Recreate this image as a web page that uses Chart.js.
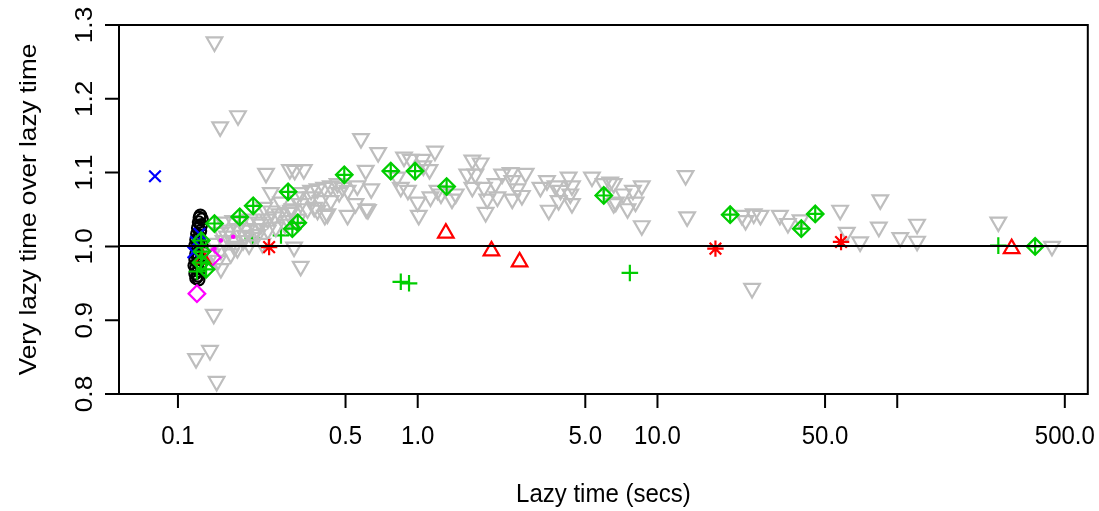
<!DOCTYPE html>
<html>
<head>
<meta charset="utf-8">
<script src="https://cdn.jsdelivr.net/npm/chart.js@4.4.1/dist/chart.umd.min.js"></script>
<style>
html,body{margin:0;padding:0;background:#fff;}
#wrap{width:1099px;height:511px;position:relative;}
</style>
</head>
<body>
<div id="wrap"><canvas id="c"></canvas></div>
<script>
// ---------------- data ----------------
const xTickValues = [0.1, 0.5, 1, 5, 10, 50, 100, 500];
const xTickLabels = ["0.1", "0.5", "1.0", "5.0", "10.0", "50.0", "", "500.0"];
const yTickValues = [0.8, 0.9, 1.0, 1.1, 1.2, 1.3];
const yTickLabels = ["0.8", "0.9", "1.0", "1.1", "1.2", "1.3"];
const xTitle = "Lazy time (secs)";
const yTitle = "Very lazy time over lazy time";
const refLineY = 1.0;

const grayX = [0.142,0.150,0.178,0.141,0.136,0.119,0.145,
  0.233,0.293,0.307,0.335,0.244,0.269,0.229,0.310,0.300,
  0.155,0.170,0.183,0.200,0.217,0.237,0.252,
  0.151,0.163,0.177,0.194,0.213,0.237,0.256,
  0.155,0.170,0.187,0.225,0.151,0.166,0.147,0.151,0.177,0.142,0.139,0.288,
  0.325,0.359,0.382,0.407,0.434,0.463,0.359,0.394,0.434,0.325,0.347,0.382,0.420,0.296,0.288,0.316,0.486,0.470,0.305,0.325,
  0.580,0.684,0.607,0.877,0.935,1.046,1.180,1.056,1.120,0.820,0.850,0.910,1.000,1.010,1.210,1.130,1.250,
  0.510,0.560,0.640,0.550,0.610,0.510,0.620,0.410,0.370,
  1.69,1.83,1.61,1.74,1.69,1.89,1.44,1.39,1.95,2.15,1.92,2.25,2.44,2.82,2.11,2.48,2.60,2.48,2.72,
  3.25,3.46,3.52,3.76,3.94,4.26,4.40,4.33,3.87,4.40,5.33,5.96,6.57,6.57,6.35,
  7.2,7.9,8.6,6.7,7.5,8.1,8.6,13.1,13.3,22.5,23.3,25.2,26.9,32.4,35.0,
  57.8,61.6,70.0,85.0,83.8,103,121,121,264,442,24.8,39.5,
  0.160,0.190,0.205,0.222,0.245,0.265,0.280,0.172,0.198,0.215];
const grayY = [1.277,1.162,1.177,0.908,0.859,0.848,0.817,
  1.099,1.104,1.103,1.104,1.073,1.060,1.053,1.067,1.051,
  1.033,1.035,1.033,1.037,1.033,1.037,1.040,
  1.019,1.022,1.024,1.022,1.024,1.022,1.026,
  1.008,1.006,1.008,1.004,0.995,0.990,0.981,0.970,0.997,1.004,0.990,1.046,
  1.073,1.076,1.078,1.080,1.082,1.085,1.067,1.062,1.062,1.058,1.051,1.049,1.044,1.049,1.035,1.037,1.080,1.073,0.999,0.973,
  1.146,1.127,1.103,1.121,1.118,1.118,1.129,1.109,1.104,1.094,1.080,1.076,1.060,1.042,1.076,1.067,1.071,
  1.076,1.082,1.078,1.058,1.051,1.042,1.050,1.042,1.053,
  1.117,1.113,1.098,1.098,1.080,1.080,1.071,1.064,1.064,1.067,1.046,1.098,1.100,1.099,1.085,1.089,1.078,1.064,1.069,
  1.080,1.089,1.049,1.082,1.076,1.094,1.082,1.071,1.062,1.058,1.094,1.085,1.085,1.058,1.087,
  1.071,1.076,1.082,1.060,1.051,1.060,1.028,1.096,1.040,1.042,1.035,1.044,1.042,1.042,1.031,
  1.049,1.019,1.006,1.063,1.026,1.012,1.030,1.007,1.033,1.000,0.943,1.036,
  1.014,1.015,1.012,1.030,1.048,1.044,1.030,1.000,1.002,1.016];

const blackX = [0.124,0.126,0.122,0.125,0.121,0.124,0.120,0.123,0.119,0.122,0.118,0.121,0.124,0.119,
  0.122,0.118,0.121,0.124,0.119,0.122,0.118,0.121,0.119,0.122,0.126,0.126,0.117,0.123];
const blackY = [1.042,1.037,1.033,1.029,1.025,1.021,1.017,1.013,1.009,1.005,1.001,0.997,0.994,0.990,
  0.986,0.982,0.978,0.975,0.971,0.967,0.963,0.960,0.957,0.955,0.984,1.002,0.974,1.039];

const greenPlusX = [0.120,0.205,0.269,0.85,0.92,7.67,264];
const greenPlusY = [0.966,1.011,1.015,0.952,0.950,0.964,1.001];

const blueX = [0.0802,0.123,0.119,0.116];
const blueY = [1.095,1.017,1.006,0.992];

const magentaX = [0.120,0.139];
const magentaY = [0.936,0.985];
const magentaDotX = [0.151,0.170,0.142];
const magentaDotY = [1.008,1.013,0.997];

const redTriX = [1.31,2.03,2.66,300,0.127];
const redTriY = [1.018,0.994,0.979,0.997,0.983];

const redStarX = [0.240,17.45,58.3];
const redStarY = [0.999,0.997,1.006];

const greenDiaX = [0.125,0.126,0.125,0.131,0.142,0.181,0.206,0.288,0.300,0.316,0.494,0.772,0.975,1.32,5.97,20.1,39.8,45.5,376];
const greenDiaY = [1.008,0.993,0.978,0.969,1.031,1.040,1.055,1.074,1.024,1.032,1.097,1.102,1.102,1.081,1.069,1.043,1.024,1.044,1.000];

// ---------------- helpers ----------------
const pts = (xs, ys) => xs.map((v, i) => ({x: v, y: ys[i]}));
const GRAY = '#BEBEBE', GREEN = '#00CD00', RED = '#FF0000', BLUE = '#0000FF', MAG = '#FF00FF';
const LW = 2.2;
function ds(label, data, style, color, r, order, extra) {
  return Object.assign({
    label, data, pointStyle: style, pointRadius: r, pointHoverRadius: r,
    borderColor: color, backgroundColor: 'rgba(0,0,0,0)', pointBorderWidth: LW,
    borderWidth: LW, showLine: false, order
  }, extra || {});
}
const FONT = '"Liberation Sans", Arial, Helvetica, sans-serif';
const FS = 24;
const STRETCH = 1.09; // text is slightly taller than wide in the reference

function hText(ctx, s, x, y) {
  ctx.save(); ctx.translate(x, y); ctx.scale(1, STRETCH);
  ctx.fillText(s, 0, 0); ctx.restore();
}
function vText(ctx, s, x, y) {
  ctx.save(); ctx.translate(x, y); ctx.rotate(-Math.PI / 2); ctx.scale(STRETCH, 1);
  ctx.fillText(s, 0, 0); ctx.restore();
}

const axesPlugin = {
  id: 'rAxes',
  afterDatasetsDraw(chart) {
    const {ctx, chartArea: a, scales: {x, y}} = chart;
    ctx.save();
    ctx.strokeStyle = '#000';
    ctx.lineWidth = 2;
    // reference line
    const yr = Math.round(y.getPixelForValue(refLineY));
    ctx.beginPath(); ctx.moveTo(a.left, yr); ctx.lineTo(a.right, yr); ctx.stroke();
    // box
    ctx.strokeRect(a.left, a.top, a.right - a.left, a.bottom - a.top);
    ctx.fillStyle = '#000';
    ctx.font = FS + 'px ' + FONT;
    // x ticks
    ctx.textAlign = 'center'; ctx.textBaseline = 'middle';
    const xs = xTickValues.map(v => x.getPixelForValue(v));
    ctx.beginPath();
    xs.forEach(px => { ctx.moveTo(px, a.bottom); ctx.lineTo(px, a.bottom + 14); });
    ctx.stroke();
    xs.forEach((px, i) => hText(ctx, xTickLabels[i], px, a.bottom + 43));
    hText(ctx, xTitle, (a.left + a.right) / 2, a.bottom + 101);
    // y ticks
    const ys = yTickValues.map(v => y.getPixelForValue(v));
    ctx.beginPath();
    ys.forEach(py => { ctx.moveTo(a.left, py); ctx.lineTo(a.left - 14, py); });
    ctx.stroke();
    ys.forEach((py, i) => vText(ctx, yTickLabels[i], a.left - 34, py));
    vText(ctx, yTitle, 29, (a.top + a.bottom) / 2);
    ctx.restore();
  }
};

new Chart(document.getElementById('c'), {
  type: 'scatter',
  data: {
    datasets: [
      ds('black', pts(blackX, blackY), 'circle', '#000000', 5.8, 9),
      ds('greenPlus', pts(greenPlusX, greenPlusY), 'cross', GREEN, 8.3, 8),
      ds('gray', pts(grayX, grayY), 'triangle', GRAY, 9, 7, {rotation: 180}),
      ds('blue', pts(blueX, blueY), 'crossRot', BLUE, 8.2, 6),
      ds('magenta', pts(magentaX, magentaY), 'rectRot', MAG, 8.3, 5),
      ds('magentaDot', pts(magentaDotX, magentaDotY), 'circle', MAG, 1.2, 5, {backgroundColor: MAG}),
      ds('redTri', pts(redTriX, redTriY), 'triangle', RED, 9, 4),
      ds('redStar', pts(redStarX, redStarY), 'star', RED, 8.2, 3),
      ds('greenDia', pts(greenDiaX, greenDiaY), 'rectRot', GREEN, 8.3, 2),
      ds('greenDiaPlus', pts(greenDiaX, greenDiaY), 'cross', GREEN, 8.3, 1)
    ]
  },
  options: {
    responsive: true,
    maintainAspectRatio: false,
    animation: false,
    devicePixelRatio: 1,
    layout: {padding: {left: 119, right: 11, top: 25, bottom: 117}},
    plugins: {legend: {display: false}, tooltip: {enabled: false}},
    events: [],
    scales: {
      x: {type: 'logarithmic', min: 0.05677, max: 623.5, display: false},
      y: {type: 'linear', min: 0.8, max: 1.3, display: false}
    }
  },
  plugins: [axesPlugin]
});
</script>
</body>
</html>
